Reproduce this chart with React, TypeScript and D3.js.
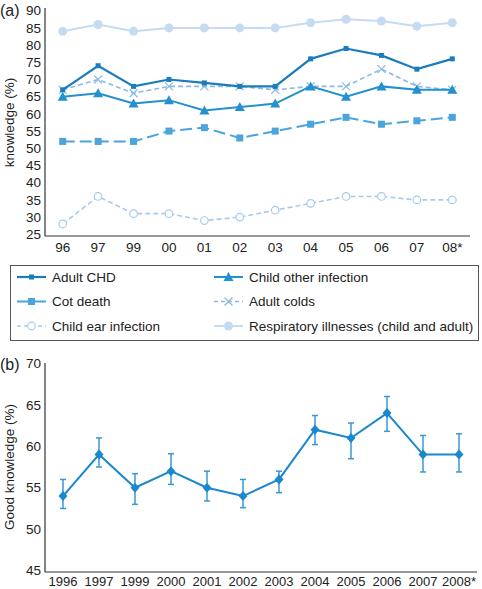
import React from "react";
import * as d3 from "d3";

const yearsA = ["96", "97", "99", "00", "01", "02", "03", "04", "05", "06", "07", "08*"];
const yearsB = ["1996", "1997", "1999", "2000", "2001", "2002", "2003", "2004", "2005", "2006", "2007", "2008*"];

const adultCHD = [67, 74, 68, 70, 69, 68, 68, 76, 79, 77, 73, 76];
const childOther = [65, 66, 63, 64, 61, 62, 63, 68, 65, 68, 67, 67];
const cotDeath = [52, 52, 52, 55, 56, 53, 55, 57, 59, 57, 58, 59];
const adultColds = [67, 70, 66, 68, 68, 68, 67, 68, 68, 73, 68, 67];
const childEar = [28, 36, 31, 31, 29, 30, 32, 34, 36, 36, 35, 35];
const respiratory = [84, 86, 84, 85, 85, 85, 85, 86.5, 87.5, 87, 85.5, 86.5];

const goodKnowledge = [54, 59, 55, 57, 55, 54, 56, 62, 61, 64, 59, 59];
const errLow = [52.5, 57.5, 53, 55.4, 53.4, 52.6, 54.4, 60.2, 58.5, 61.8, 56.9, 56.9];
const errHigh = [56, 61, 56.7, 59.1, 57, 56, 57, 63.7, 62.8, 66, 61.3, 61.5];

const ticksA = [25, 30, 35, 40, 45, 50, 55, 60, 65, 70, 75, 80, 85, 90];
const ticksB = [45, 50, 55, 60, 65, 70];

type Marker = "smallSquare" | "square" | "triangle" | "x" | "openCircle" | "circle";
interface Series {
  name: string;
  values: number[];
  color: string;
  dash: string;
  legendDash: string;
  marker: Marker;
  width: number;
}

const series: Series[] = [
  { name: "Respiratory illnesses (child and adult)", values: respiratory, color: "#c4dbf0", dash: "", legendDash: "", marker: "circle", width: 2 },
  { name: "Child ear infection", values: childEar, color: "#a9cbea", dash: "5,3", legendDash: "4,3", marker: "openCircle", width: 1.6 },
  { name: "Cot death", values: cotDeath, color: "#4ba4dc", dash: "12,5", legendDash: "", marker: "square", width: 2 },
  { name: "Adult colds", values: adultColds, color: "#8cb9e2", dash: "5,3", legendDash: "4,3", marker: "x", width: 1.6 },
  { name: "Child other infection", values: childOther, color: "#2390cf", dash: "", legendDash: "", marker: "triangle", width: 2 },
  { name: "Adult CHD", values: adultCHD, color: "#1a7cbd", dash: "", legendDash: "", marker: "smallSquare", width: 2.2 },
];

const legendOrder = [
  ["Adult CHD", "Child other infection"],
  ["Cot death", "Adult colds"],
  ["Child ear infection", "Respiratory illnesses (child and adult)"],
];

const FONT = "'Liberation Sans', Arial, Helvetica, sans-serif";

function MarkerShape({ m, x, y, color }: { m: Marker; x: number; y: number; color: string }) {
  switch (m) {
    case "smallSquare":
      return <rect x={x - 2.5} y={y - 2.5} width={5} height={5} fill={color} />;
    case "square":
      return <rect x={x - 3.5} y={y - 3.5} width={7} height={7} fill={color} />;
    case "triangle":
      return <path d={`M${x},${y - 5} L${x + 5},${y + 4} L${x - 5},${y + 4} Z`} fill={color} />;
    case "x":
      return (
        <path d={`M${x - 4},${y - 4} L${x + 4},${y + 4} M${x - 4},${y + 4} L${x + 4},${y - 4}`} stroke={color} strokeWidth={1.2} fill="none" />
      );
    case "openCircle":
      return <circle cx={x} cy={y} r={3.8} fill="white" stroke={color} strokeWidth={1.2} />;
    case "circle":
      return <circle cx={x} cy={y} r={4.5} fill={color} />;
  }
}

export default function App() {
  const W = 482;
  const H = 589;

  // Panel A
  const xA = d3.scaleBand<string>().domain(yearsA).range([45, 470]).padding(0);
  const yA = d3.scaleLinear().domain([25, 90]).range([234.3, 10.7]);
  const cxA = (d: string) => (xA(d) as number) + xA.bandwidth() / 2;
  const axisBottomA = 236;

  // Panel B
  const xB = d3.scaleBand<string>().domain(yearsB).range([45, 477]).padding(0);
  const yB = d3.scaleLinear().domain([45, 70]).range([570.7, 363.3]);
  const cxB = (d: string) => (xB(d) as number) + xB.bandwidth() / 2;
  const axisBottomB = 572;

  const lineB = d3
    .line<number>()
    .x((_, i) => cxB(yearsB[i]))
    .y((v) => yB(v));

  const byName = (n: string) => series.find((s) => s.name === n)!;

  return (
    <svg width={W} height={H} style={{ position: "absolute", left: 0, top: 0 }} fontFamily={FONT}>
      <rect width={W} height={H} fill="white" />
      {/* Panel A */}
      <text x={0} y={16} fontSize={16} fill="#222">(a)</text>
      <line x1={45} x2={45} y1={8} y2={axisBottomA} stroke="#333" strokeWidth={1.2} />
      <line x1={45} x2={470} y1={axisBottomA} y2={axisBottomA} stroke="#333" strokeWidth={1.2} />
      {ticksA.map((t) => (
        <text key={t} x={41} y={yA(t)} dy="0.35em" textAnchor="end" fontSize={13.5} fill="#222">
          {t}
        </text>
      ))}
      {yearsA.map((d) => (
        <text key={d} x={cxA(d)} y={252} textAnchor="middle" fontSize={13.5} fill="#222">
          {d}
        </text>
      ))}
      <text transform={`translate(14,${(10.7 + 234.3) / 2}) rotate(-90)`} textAnchor="middle" fontSize={13.5} fill="#222">
        knowledge (%)
      </text>
      {series.map((s) => {
        const gen = d3
          .line<number>()
          .x((_, i) => cxA(yearsA[i]))
          .y((v) => yA(v));
        return (
          <g key={s.name}>
            <path d={gen(s.values) || ""} fill="none" stroke={s.color} strokeWidth={s.width} strokeDasharray={s.dash || undefined} />
            {s.values.map((v, i) => (
              <MarkerShape key={i} m={s.marker} x={cxA(yearsA[i])} y={yA(v)} color={s.color} />
            ))}
          </g>
        );
      })}

      {/* Legend */}
      <rect x={10.5} y={265.5} width={468} height={75} fill="none" stroke="#555" strokeWidth={1} />
      {legendOrder.map((row, ri) =>
        row.map((name, ci) => {
          const s = byName(name);
          const y = 277 + ri * 24.5;
          const x0 = ci === 0 ? 17 : 214;
          return (
            <g key={name}>
              <line x1={x0} x2={x0 + 29} y1={y} y2={y} stroke={s.color} strokeWidth={s.width} strokeDasharray={s.legendDash || undefined} />
              <MarkerShape m={s.marker} x={x0 + 14.5} y={y} color={s.color} />
              <text x={x0 + 35} y={y} dy="0.35em" fontSize={13.5} fill="#222">
                {name}
              </text>
            </g>
          );
        })
      )}

      {/* Panel B */}
      <text x={0} y={370} fontSize={16} fill="#222">(b)</text>
      <line x1={45} x2={45} y1={363} y2={axisBottomB} stroke="#333" strokeWidth={1.2} />
      <line x1={45} x2={477} y1={axisBottomB} y2={axisBottomB} stroke="#333" strokeWidth={1.2} />
      {ticksB.map((t) => (
        <text key={t} x={41} y={yB(t)} dy="0.35em" textAnchor="end" fontSize={13.5} fill="#222">
          {t}
        </text>
      ))}
      {yearsB.map((d) => (
        <text key={d} x={cxB(d)} y={586} textAnchor="middle" fontSize={13} fill="#222">
          {d}
        </text>
      ))}
      <text transform={`translate(14,${(363.3 + 570.7) / 2}) rotate(-90)`} textAnchor="middle" fontSize={13.5} fill="#222">
        Good knowledge (%)
      </text>
      {goodKnowledge.map((v, i) => {
        const x = cxB(yearsB[i]);
        return (
          <g key={i} stroke="#3a98d6" strokeWidth={1.5}>
            <line x1={x} x2={x} y1={yB(errLow[i])} y2={yB(errHigh[i])} />
            <line x1={x - 3} x2={x + 3} y1={yB(errLow[i])} y2={yB(errLow[i])} />
            <line x1={x - 3} x2={x + 3} y1={yB(errHigh[i])} y2={yB(errHigh[i])} />
          </g>
        );
      })}
      <path d={lineB(goodKnowledge) || ""} fill="none" stroke="#1b88cd" strokeWidth={2} />
      {goodKnowledge.map((v, i) => {
        const x = cxB(yearsB[i]);
        const y = yB(v);
        return <path key={i} d={`M${x},${y - 5} L${x + 4.5},${y} L${x},${y + 5} L${x - 4.5},${y} Z`} fill="#1b88cd" />;
      })}
    </svg>
  );
}
